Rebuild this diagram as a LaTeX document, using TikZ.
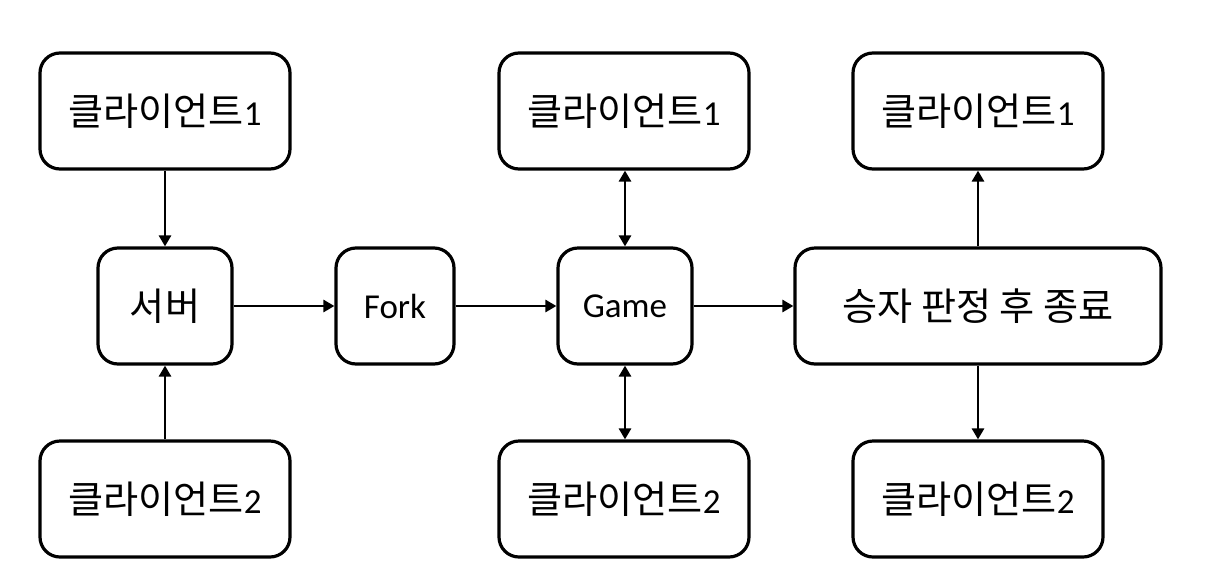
\documentclass[tikz,border=0pt]{standalone}
\usepackage{fontspec}
\setmainfont{Carlito}
\newfontfamily\krfont[Scale=1.09]{Noto Sans CJK KR}
\usetikzlibrary{arrows.meta}
\tikzset{
  box/.style={draw=black, line width=3.2pt, rounded corners=20pt, fill=white,
    inner sep=0pt, align=center, font=\fontsize{35}{42}\selectfont},
  wide/.style={box, minimum width=250pt, minimum height=116pt},
  small/.style={box, minimum width=134pt, minimum height=116pt},
  tip/.tip={Triangle[length=11pt,width=12pt]},
  conn/.style={line width=2.9pt, -tip},
  bconn/.style={line width=2.9pt, tip-tip},
}
\newcommand{\cl}[1]{{\krfont 클라이언트}#1}
\begin{document}
\begin{tikzpicture}[x=1pt,y=-1pt]
\useasboundingbox (0,0) rectangle (1212,587);
\node[wide] (c1a) at (165,111) {\cl{1}};
\node[wide] (c2a) at (165,499) {\cl{2}};
\node[small] (srv) at (165,306) {\krfont 서버};
\node[box, minimum width=118pt, minimum height=116pt] (fork) at (395,306) {Fork};
\node[small] (game) at (625,306) {Game};
\node[wide] (c1b) at (624,111) {\cl{1}};
\node[wide] (c2b) at (624,499) {\cl{2}};
\node[box, minimum width=366pt, minimum height=116pt] (end) at (978,306) {\krfont 승자 판정 후 종료};
\node[wide] (c1c) at (978,111) {\cl{1}};
\node[wide] (c2c) at (978,499) {\cl{2}};
\draw[conn] (c1a) -- (srv);
\draw[conn] (c2a) -- (srv);
\draw[conn] (srv) -- (fork);
\draw[conn] (fork) -- (game);
\draw[bconn] (game.north) -- (game.north |- c1b.south);
\draw[bconn] (game.south) -- (game.south |- c2b.north);
\draw[conn] (game) -- (end);
\draw[conn] (end) -- (c1c);
\draw[conn] (end) -- (c2c);
\end{tikzpicture}
\end{document}
